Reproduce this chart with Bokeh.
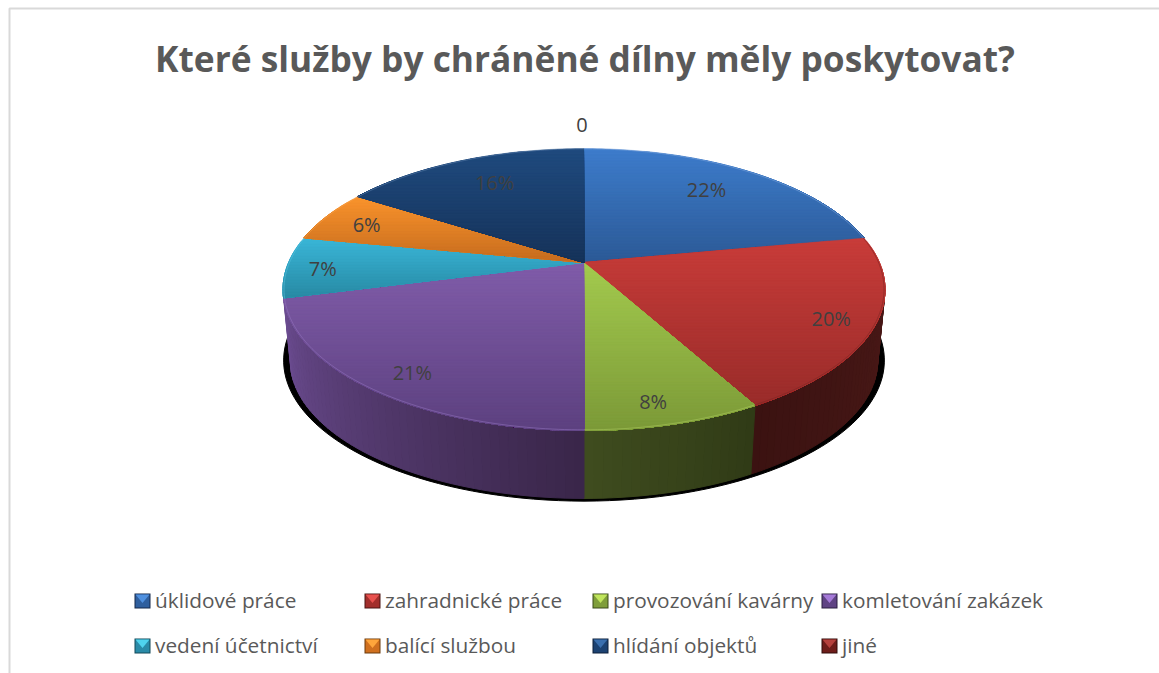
import math
from bokeh.plotting import figure
from bokeh.models import ColumnDataSource
from bokeh.core.properties import value
from bokeh.embed import file_html
from bokeh.resources import INLINE

# ---- chart data ----
title = "Které služby by chráněné dílny měly poskytovat?"
categories = ["úklidové práce", "zahradnické práce", "provozování kavárny", "komletování zakázek",
              "vedení účetnictví", "balící službou", "hlídání objektů", "jiné"]
shares = [22, 20, 8, 21, 7, 6, 16, 0]
labels = ["22%", "20%", "8%", "21%", "7%", "6%", "16%", "0"]

# ---- styles ----
top_light = ["#3d7ccb", "#c83c39", "#a3ca4e", "#805ca9", "#39b5d7", "#f9932c", "#1f4a7e", "#7a2320"]
top_dark = ["#2c5a97", "#9a2c2a", "#7c9a38", "#5d4180", "#288ba5", "#c76c1e", "#16335a", "#5a1a18"]
wall_a = ["#4c1a18", "#4c1a18", "#303b16", "#3a2649", "#2a6a80", "#a05518", "#10284a", "#400000"]
wall_b = ["#4c1a18", "#3b1211", "#3f4c1f", "#6b4c91", "#2a6a80", "#a05518", "#10284a", "#400000"]
rim = ["#7ea6dc", "#7c2422", "#a9c95c", "#9173bd", "#5ac3de", "#f9a24a", "#5c80ac", "#7a2320"]
label_radius = [0.72, 0.86, 0.85, 0.85, 0.88, 0.83, 0.72, 1.24]
label_dx = [0, 0, -5, 5, 0, -2, 2, -2]
label_dy = [-5, 3, 6, 5, 2, 1, -4, -1]
sw_light = ["#4f90df", "#e8514e", "#c0e55c", "#a57ad8", "#4fd3ee", "#ffa63c", "#3a6fae", "#b5413d"]
sw_mid = ["#2f5f9e", "#a22f2c", "#7f9e3a", "#5f4384", "#2a8ba8", "#d0701f", "#1c4272", "#6e1d1a"]
sw_edge = ["#14294a", "#4a1412", "#3a4a18", "#2b1e40", "#124858", "#6a3a0c", "#0c1e38", "#300c0a"]
TEXT = "#595959"
LABEL = "#404040"
FONT = "Open Sans"

# ---- layout in page pixels ----
W, H = 1159, 673
CX, CY, RX, RY, K = 583.5, 262.0, 295.4, 135.8, 0.1915   # projected disc
BOTTOM_CY, BOTTOM_S = 334.0, 0.976                        # lower face of the disc
SHADOW_CY, SHADOW_S = 333.0, 0.998


def proj(theta, f=1.0, cy=CY, s=1.0):
    """theta in degrees, clockwise from the back of the disc."""
    t = math.radians(theta)
    d = f * math.cos(t)
    w = 1 + K * d
    return CX + s * RX * f * math.sin(t) / w, cy - s * RY * d / w


def hex2rgb(c):
    return tuple(int(c[i:i + 2], 16) for i in (1, 3, 5))


def lerp(a, b, t):
    ca, cb = hex2rgb(a), hex2rgb(b)
    return "#%02x%02x%02x" % tuple(round(x + (y - x) * t) for x, y in zip(ca, cb))


def clip_below(poly, y0):
    out = []
    for i, (x1, y1) in enumerate(poly):
        x2, y2 = poly[(i + 1) % len(poly)]
        if y1 >= y0:
            out.append((x1, y1))
        if (y1 >= y0) != (y2 >= y0):
            t = (y0 - y1) / (y2 - y1)
            out.append((x1 + (x2 - x1) * t, y0))
    return out


p = figure(width=W, height=H, x_range=(0, W), y_range=(H, 0), output_backend="svg",
           toolbar_location=None, min_border=0, outline_line_color=None,
           background_fill_color="white", border_fill_color="white")
p.axis.visible = False
p.grid.visible = False

# chart-area frame (only its top and left sides fall inside the photograph)
p.line([W, 9, 9], [8, 8, H], line_color="#d9d9d9", line_width=2)

# slice limits
edges = [0.0]
for v in shares:
    edges.append(edges[-1] + v)
total = edges[-1]
ang = [e / total * 360 for e in edges]

# shadow
pts = [proj(a, 1.0, SHADOW_CY, SHADOW_S) for a in range(0, 360, 2)]
p.patch([q[0] for q in pts], [q[1] for q in pts], fill_color="black", line_color="black", line_width=1)

# walls
wx, wy, wc = [], [], []
for i, v in enumerate(shares):
    if v == 0:
        continue
    a0, a1 = max(ang[i], 92), min(ang[i + 1], ang[4])
    if a1 <= a0:
        continue
    n = max(1, int((a1 - a0) / 1.5))
    for j in range(n):
        t0 = a0 + (a1 - a0) * j / n
        t1 = a0 + (a1 - a0) * (j + 1) / n
        A, B = proj(t0), proj(t1)
        C, D = proj(t1, 1, BOTTOM_CY, BOTTOM_S), proj(t0, 1, BOTTOM_CY, BOTTOM_S)
        wx.append([A[0], B[0], C[0], D[0]])
        wy.append([A[1], B[1], C[1], D[1]])
        wc.append(lerp(wall_a[i], wall_b[i], (j + 0.5) / n))
p.patches("x", "y", source=ColumnDataSource(dict(x=wx, y=wy, c=wc)), fill_color="c", line_color="c", line_width=1)

# top faces with a vertical gradient
fx, fy, fc = [], [], []
for i, v in enumerate(shares):
    if v == 0:
        continue
    n = max(6, int(ang[i + 1] - ang[i]))
    poly = [(CX, CY)] + [proj(ang[i] + (ang[i + 1] - ang[i]) * j / n) for j in range(n + 1)]
    ys = [q[1] for q in poly]
    lo, hi = min(ys), max(ys)
    steps = max(2, int((hi - lo) / 3))
    for b in range(steps):
        y0 = lo + (hi - lo) * b / steps
        piece = clip_below(poly, y0) if b else poly
        if len(piece) < 3:
            continue
        fx.append([q[0] for q in piece])
        fy.append([q[1] for q in piece])
        fc.append(lerp(top_light[i], top_dark[i], b / (steps - 1)))
p.patches("x", "y", source=ColumnDataSource(dict(x=fx, y=fy, c=fc)), fill_color="c", line_color="c", line_width=0.3)

# bevel along the outer edge
for i, v in enumerate(shares):
    if v == 0:
        continue
    n = max(6, int(ang[i + 1] - ang[i]))
    arc = [proj(ang[i] + (ang[i + 1] - ang[i]) * j / n, 0.997) for j in range(n + 1)]
    p.line([q[0] for q in arc], [q[1] for q in arc], line_color=rim[i], line_width=1, line_alpha=0.55)

# data labels
lx, ly = [], []
for i in range(len(shares)):
    mid = (ang[i] + ang[i + 1]) / 2
    x, y = proj(mid, label_radius[i])
    lx.append(x + label_dx[i])
    ly.append(y + label_dy[i])
p.text(lx, ly, text=labels, text_font=value(FONT), text_font_size="20px", text_color=LABEL,
       text_align="center", text_baseline="middle")

# title
p.text([CX + 1], [57], text=[title], text_font=value(FONT), text_font_size="35.3px", text_font_style="bold",
       text_color=TEXT, text_align="center", text_baseline="middle")

# legend
col_x = [134, 364, 592, 821]
row_y = [600.5, 645.5]
SW = 16
for i, name in enumerate(categories):
    x0 = col_x[i % 4]
    yc = row_y[i // 4]
    x1, y0, y1 = x0 + SW, yc - 7.5, yc + 7.5
    p.patch([x0, x1, x1, x0], [y0, y0, y1, y1], fill_color=sw_edge[i], line_color=None)
    p.patch([x0 + 1, x1 - 1, x1 - 1, x0 + 1], [y0 + 1, y0 + 1, y1 - 1, y1 - 1], fill_color=sw_mid[i], line_color=None)
    p.patch([x0 + 1, x1 - 1, (x0 + x1) / 2], [y0 + 1, y0 + 1, yc + 2], fill_color=sw_light[i], line_color=None)
    p.text([x1 + 4.5], [yc - 1.5], text=[name], text_font=value(FONT), text_font_size="20.8px", text_color=TEXT,
           text_align="left", text_baseline="middle")

open("out.html", "w").write(file_html(p, INLINE))
